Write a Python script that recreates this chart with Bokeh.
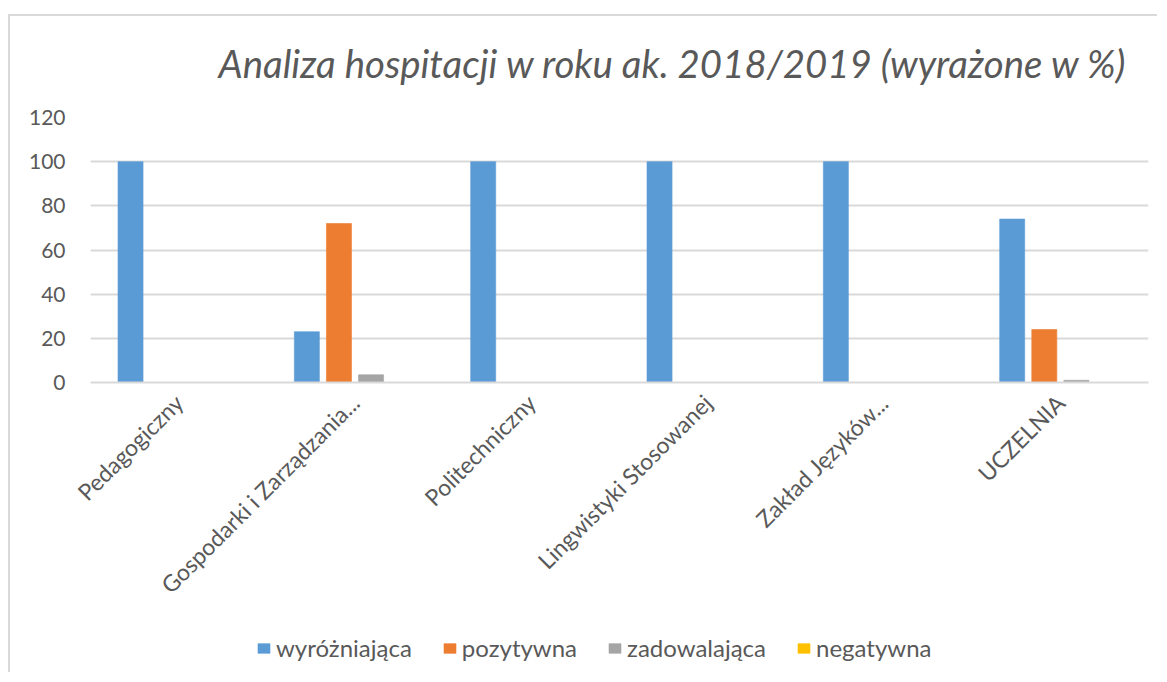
import math
from bokeh.plotting import figure
from bokeh.layouts import column
from bokeh.models import FactorRange, Legend, LegendItem, ColumnDataSource, Range1d, Title
from bokeh.transform import dodge
from bokeh.embed import file_html
from bokeh.resources import INLINE

categories = ["Pedagogiczny", "Gospodarki i Zarządzania...", "Politechniczny",
              "Lingwistyki Stosowanej", "Zakład Języków...", "UCZELNIA"]
wyrozniajaca = [100, 23, 100, 100, 100, 74]
pozytywna = [0, 72, 0, 0, 0, 24]
zadowalajaca = [0, 3.5, 0, 0, 0, 1]
negatywna = [0, 0, 0, 0, 0, 0]
series_names = ["wyróżniająca", "pozytywna", "zadowalająca", "negatywna"]
colors = ["#5b9bd5", "#ed7d31", "#a5a5a5", "#ffc000"]
y_ticks = [0, 20, 40, 60, 80, 100, 120]
title_text = "Analiza hospitacji w roku ak. 2018/2019 (wyrażone w %)"

FONT = "Lato"
TXT = "#595959"
GRID = "#d9d9d9"

src = ColumnDataSource(dict(cat=categories, s0=wyrozniajaca, s1=pozytywna,
                            s2=zadowalajaca, s3=negatywna))
keys = ["s0", "s1", "s2", "s3"]

# title strip
tt = figure(title=None, x_range=Range1d(0, 1), y_range=Range1d(0, 1),
            width=1149, height=93, output_backend="svg", toolbar_location=None,
            x_axis_type=None, y_axis_type=None, min_border=0)
tt.styles = {"border-top": "2px solid #d9d9d9", "border-left": "2px solid #d9d9d9",
             "margin-top": "14px", "margin-left": "8px"}
tt.outline_line_color = None
tt.xgrid.grid_line_color = None
tt.ygrid.grid_line_color = None
tt.add_layout(Title(text=title_text, text_font=FONT, text_font_style="italic",
                    text_font_size="38.4px", text_color=TXT, align="left",
                    offset=128, standoff=43), "above")

# main chart
p = figure(title=None, x_range=FactorRange(*categories, range_padding=0),
           y_range=Range1d(0, 120),
           width=1149, height=515, output_backend="svg", toolbar_location=None,
           min_border_left=80, min_border_right=11, min_border_top=10,
           min_border_bottom=240)
p.styles = {"border-left": "2px solid #d9d9d9", "margin-left": "8px"}
p.outline_line_color = None

offsets = [-0.273, -0.091, 0.091, 0.273]
for i, key in enumerate(keys):
    p.vbar(x=dodge("cat", offsets[i], range=p.x_range), top=key, width=0.142,
           source=src, fill_color=colors[i], line_color=colors[i], line_alpha=0.6)

p.yaxis.ticker = y_ticks
p.yaxis.axis_line_color = None
p.yaxis.major_tick_line_color = None
p.yaxis.minor_tick_line_color = None
p.yaxis.major_label_text_font = FONT
p.yaxis.major_label_text_font_size = "21px"
p.yaxis.major_label_text_color = TXT
p.yaxis.major_label_standoff = 19

p.xaxis.axis_line_color = GRID
p.xaxis.axis_line_width = 2
p.xaxis.major_tick_line_color = None
p.xaxis.minor_tick_line_color = None
p.xaxis.major_label_orientation = math.pi / 4
p.xaxis.major_label_text_font = FONT
p.xaxis.major_label_text_font_size = "23px"
p.xaxis.major_label_text_color = TXT
p.xaxis.major_label_standoff = 10

p.xgrid.grid_line_color = None
p.ygrid.grid_line_color = GRID
p.ygrid.grid_line_width = 2

# legend strip below the chart
lg = figure(x_range=FactorRange(*categories), y_range=Range1d(0, 120),
            width=1149, height=50, output_backend="svg", toolbar_location=None,
            x_axis_type=None, y_axis_type=None, min_border=0)
lg.styles = {"border-left": "2px solid #d9d9d9", "margin-left": "8px"}
lg.outline_line_color = None
lg.xgrid.grid_line_color = None
lg.ygrid.grid_line_color = None
leg_renderers = []
for i, key in enumerate(keys):
    r = lg.rect(x="cat", y=key, width=0.142, height=1, source=src,
                fill_color=colors[i], line_color=colors[i], line_alpha=0.6, visible=False)
    leg_renderers.append(r)

legend = Legend(items=[LegendItem(label=n, renderers=[r]) for n, r in zip(series_names, leg_renderers)],
                orientation="horizontal", location=(166, 10),
                label_text_font=FONT, label_text_font_size="24px", label_text_color=TXT,
                glyph_width=15, glyph_height=12, label_standoff=5, spacing=30,
                padding=0, margin=0, border_line_color=None, background_fill_alpha=0,
                inactive_fill_alpha=0)
lg.add_layout(legend, "center")

layout = column(tt, p, lg, spacing=0)
open("out.html", "w").write(file_html(layout, INLINE))
